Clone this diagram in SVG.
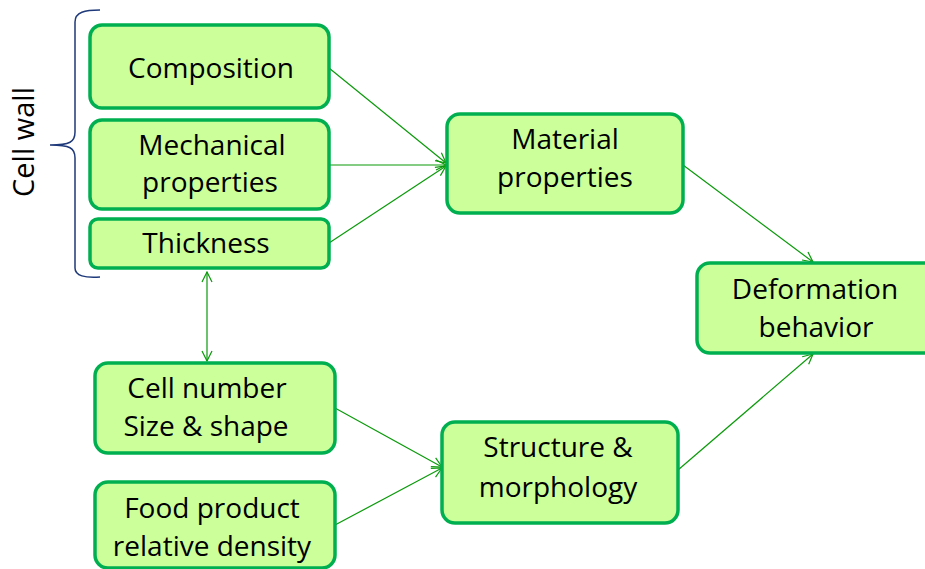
<svg xmlns="http://www.w3.org/2000/svg" width="925" height="569" viewBox="0 0 925 569">
<defs>
<style>
.box{fill:#ccff99;stroke:#00b050;stroke-width:3.5}
.t{font-family:"Open Sans","Liberation Sans",sans-serif;font-size:28px;fill:#000;text-anchor:middle}
.c{fill:none;stroke:#0a9a0a;stroke-width:1.2}
</style>
<marker id="ah" viewBox="0 0 12 12" refX="11" refY="6" markerWidth="12" markerHeight="12" markerUnits="userSpaceOnUse" orient="auto-start-reverse">
<path d="M1,1 L11,6 L1,11" fill="none" stroke="#0a9a0a" stroke-width="1.2"/>
</marker>
</defs>
<rect width="925" height="569" fill="#fff"/>
<g id="connectors">
<line class="c" x1="329" y1="68" x2="446" y2="163" marker-end="url(#ah)"/>
<line class="c" x1="329" y1="165" x2="446" y2="165" marker-end="url(#ah)"/>
<line class="c" x1="329" y1="243" x2="446" y2="166" marker-end="url(#ah)"/>
<line class="c" x1="683" y1="165" x2="813" y2="262" marker-end="url(#ah)"/>
<line class="c" x1="678" y1="470" x2="813" y2="354" marker-end="url(#ah)"/>
<line class="c" x1="335" y1="408" x2="442" y2="467" marker-end="url(#ah)"/>
<line class="c" x1="335" y1="525" x2="442" y2="468" marker-end="url(#ah)"/>
<line class="c" x1="207" y1="272" x2="207" y2="361" marker-start="url(#ah)" marker-end="url(#ah)"/>
</g>
<g id="cellwall">
<path d="M100,10 C85,10 75,12 75,22 L75,132 C75,142 70,145 50,145 C70,145 75,148 75,158 L75,268 C75,276 85,278 100,277" fill="none" stroke="#1f3a7a" stroke-width="1.5"/>
<text class="t" transform="translate(34,142) rotate(-90)" style="font-size:29px">Cell wall</text>
</g>
<g id="composition">
<rect class="box" x="90" y="25" width="239" height="83" rx="12"/>
<text class="t" x="211" y="78">Composition</text>
</g>
<g id="mechanical">
<rect class="box" x="90" y="120" width="239" height="89" rx="12"/>
<text class="t" x="212" y="155">Mechanical</text>
<text class="t" x="210" y="192">properties</text>
</g>
<g id="thickness">
<rect class="box" x="90" y="219" width="239" height="49" rx="8"/>
<text class="t" x="206" y="253">Thickness</text>
</g>
<g id="material">
<rect class="box" x="447" y="114" width="236" height="99" rx="13"/>
<text class="t" x="565" y="149">Material</text>
<text class="t" x="565" y="187">properties</text>
</g>
<g id="deformation">
<rect class="box" x="697" y="263" width="240" height="90" rx="13"/>
<text class="t" x="815" y="299">Deformation</text>
<text class="t" x="816" y="337">behavior</text>
</g>
<g id="structure">
<rect class="box" x="442" y="422" width="236" height="101" rx="13"/>
<text class="t" x="558" y="457">Structure &amp;</text>
<text class="t" x="558" y="497">morphology</text>
</g>
<g id="cellnumber">
<rect class="box" x="95" y="363" width="240" height="90" rx="13"/>
<text class="t" x="207" y="398">Cell number</text>
<text class="t" x="206" y="436">Size &amp; shape</text>
</g>
<g id="food">
<rect class="box" x="95" y="482" width="240" height="86" rx="13"/>
<text class="t" x="212" y="518">Food product</text>
<text class="t" x="212" y="556">relative density</text>
</g>
</svg>
